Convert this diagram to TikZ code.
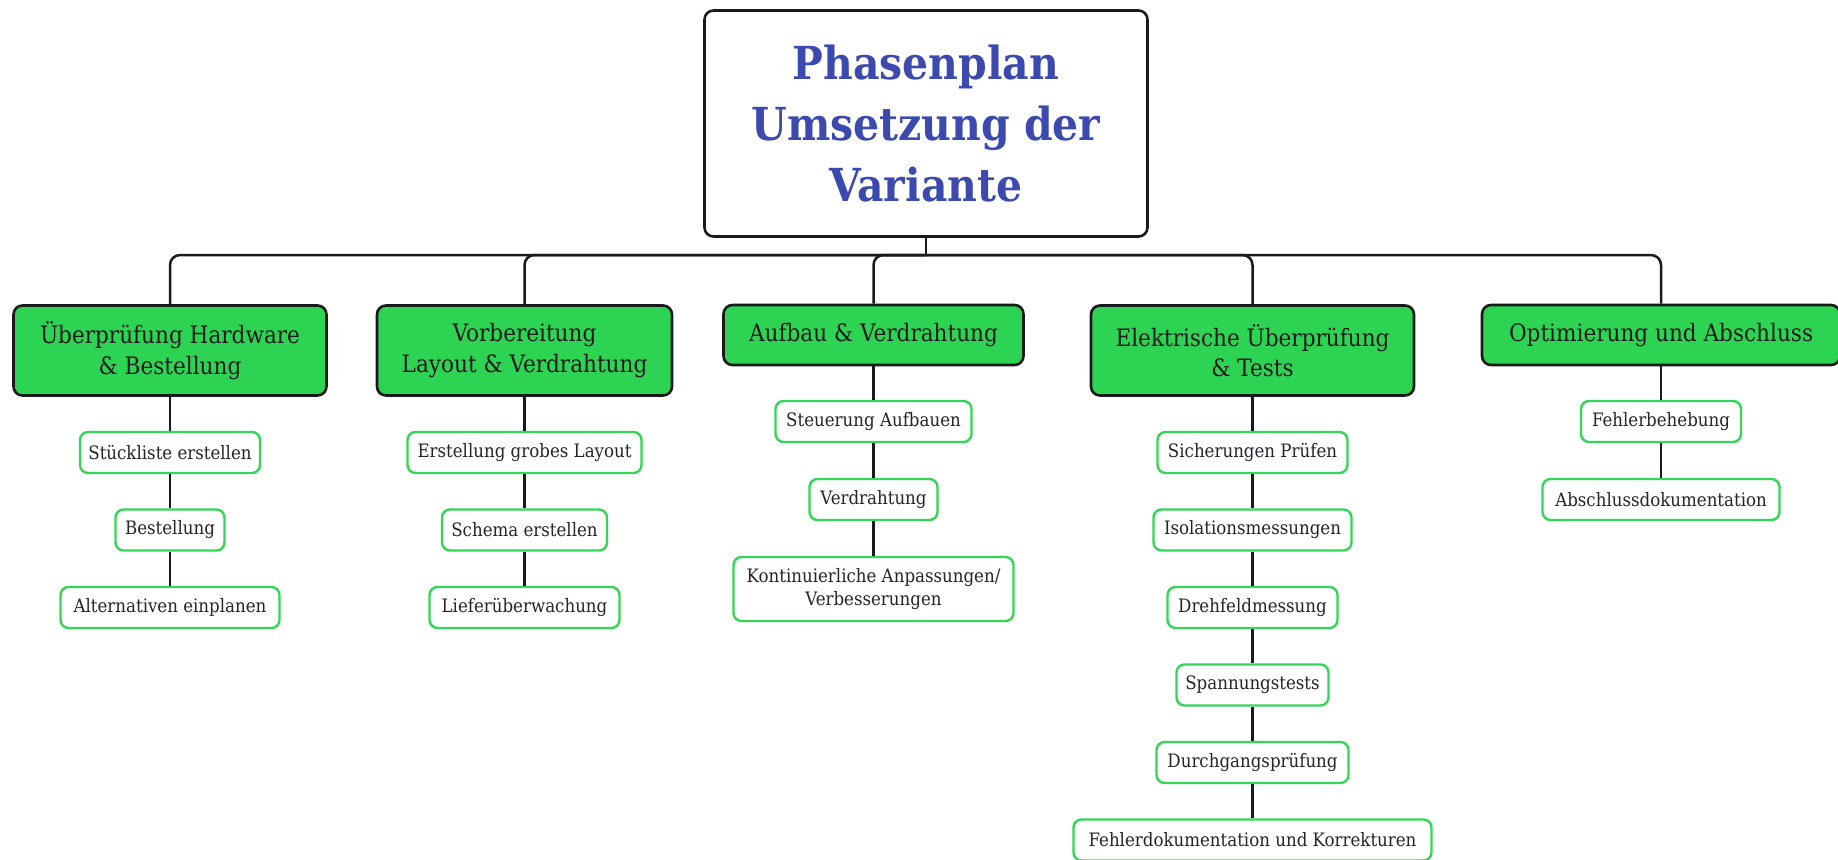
\documentclass[tikz,border=0pt]{standalone}
\usepackage{fontspec}
\setmainfont{DejaVu Serif Condensed}
\definecolor{titleblue}{RGB}{60,74,176}
\definecolor{phasegreen}{RGB}{45,212,84}
\definecolor{taskgreen}{RGB}{52,214,88}
\definecolor{inkdark}{RGB}{26,26,26}
\definecolor{tasktext}{RGB}{36,36,48}
\tikzset{
  headbox/.style={draw=inkdark, line width=2.6pt, rounded corners=9pt, fill=white,
    text=titleblue, align=center, inner sep=0pt,
    font=\fontsize{45.5}{61}\selectfont\bfseries},
  phasebox/.style={draw=inkdark, line width=2.6pt, rounded corners=9pt, fill=phasegreen,
    text=inkdark, align=center, inner sep=0pt,
    font=\fontsize{24}{30.5}\selectfont},
  taskbox/.style={draw=taskgreen, line width=2.4pt, rounded corners=8pt, fill=white,
    text=tasktext, align=center, inner sep=0pt, minimum height=41,
    font=\fontsize{18.5}{23.5}\selectfont},
  link/.style={draw=inkdark, line width=2.5pt},
  elbow/.style={link, rounded corners=10pt}
}
\begin{document}
\begin{tikzpicture}[x=1pt,y=-1pt]
\useasboundingbox[fill=white] (0,0) rectangle (1838,859);

% title
\node[headbox, minimum width=443, minimum height=226] (title) at (926,123.5)
  {Phasenplan\\Umsetzung der\\Variante};

% phases
\node[phasebox, minimum width=313, minimum height=90] (p1) at (170,350.5)
  {Überprüfung Hardware\\\& Bestellung};
\node[phasebox, minimum width=295, minimum height=90] (p2) at (524.5,350.5)
  {Vorbereitung\\Layout \& Verdrahtung};
\node[phasebox, minimum width=300, minimum height=60] (p3) at (873.5,335)
  {Aufbau \& Verdrahtung};
\node[phasebox, minimum width=323, minimum height=90] (p4) at (1252.5,350.5)
  {Elektrische Überprüfung\\\& Tests};
\node[phasebox, minimum width=358, minimum height=60] (p5) at (1661,335)
  {Optimierung und Abschluss};

% branches from the title to the phases
\coordinate (bus) at (926,255);
\draw[link] (title.south) -- (bus);
\foreach \p in {p1,p2,p3,p4,p5}
  \draw[elbow] (bus) -| (\p.north);

% tasks, column 1
\node[taskbox, minimum width=180] (t11) at (170,452.5) {Stückliste erstellen};
\node[taskbox, minimum width=109] (t12) at (170,530) {Bestellung};
\node[taskbox, minimum width=219] (t13) at (170,607.5) {Alternativen einplanen};

% tasks, column 2
\node[taskbox, minimum width=234] (t21) at (524.5,452.5) {Erstellung grobes Layout};
\node[taskbox, minimum width=165] (t22) at (524.5,530) {Schema erstellen};
\node[taskbox, minimum width=190] (t23) at (524.5,607.5) {Lieferüberwachung};

% tasks, column 3
\node[taskbox, minimum width=196] (t31) at (873.5,421.5) {Steuerung Aufbauen};
\node[taskbox, minimum width=128] (t32) at (873.5,499.5) {Verdrahtung};
\node[taskbox, minimum width=280, minimum height=64] (t33) at (873.5,589)
  {Kontinuierliche Anpassungen/\\Verbesserungen};

% tasks, column 4
\node[taskbox, minimum width=190] (t41) at (1252.5,452.5) {Sicherungen Prüfen};
\node[taskbox, minimum width=198] (t42) at (1252.5,530) {Isolationsmessungen};
\node[taskbox, minimum width=170] (t43) at (1252.5,607.5) {Drehfeldmessung};
\node[taskbox, minimum width=152] (t44) at (1252.5,685) {Spannungstests};
\node[taskbox, minimum width=192] (t45) at (1252.5,762.5) {Durchgangsprüfung};
\node[taskbox, minimum width=358] (t46) at (1252.5,840) {Fehlerdokumentation und Korrekturen};

% tasks, column 5
\node[taskbox, minimum width=160] (t51) at (1661,421.5) {Fehlerbehebung};
\node[taskbox, minimum width=237] (t52) at (1661,499.5) {Abschlussdokumentation};

% vertical links inside each column
\draw[link] (p1.south) -- (t11.north) (t11.south) -- (t12.north) (t12.south) -- (t13.north);
\draw[link] (p2.south) -- (t21.north) (t21.south) -- (t22.north) (t22.south) -- (t23.north);
\draw[link] (p3.south) -- (t31.north) (t31.south) -- (t32.north) (t32.south) -- (t33.north);
\draw[link] (p4.south) -- (t41.north) (t41.south) -- (t42.north) (t42.south) -- (t43.north)
  (t43.south) -- (t44.north) (t44.south) -- (t45.north) (t45.south) -- (t46.north);
\draw[link] (p5.south) -- (t51.north) (t51.south) -- (t52.north);
\end{tikzpicture}
\end{document}
